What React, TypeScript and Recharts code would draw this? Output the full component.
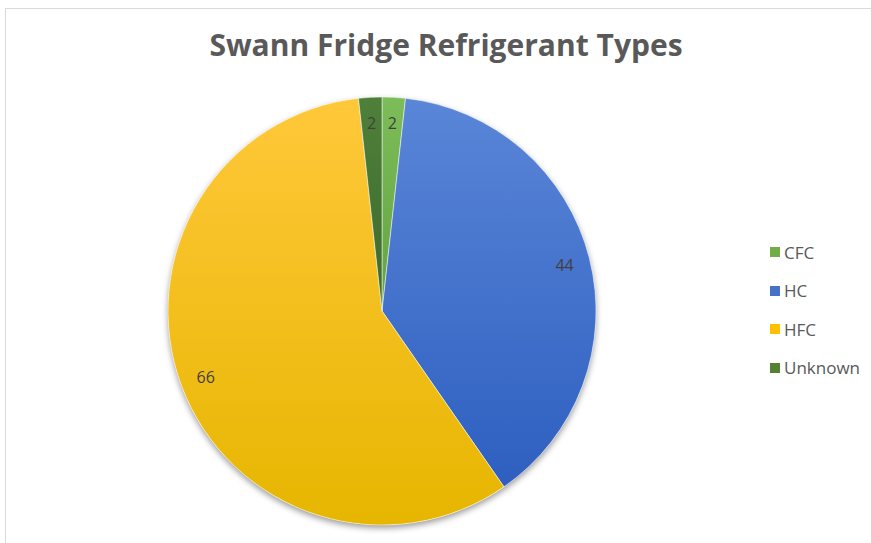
import React from 'react'
import { PieChart, Pie, Cell, Legend } from 'recharts'

const categories = ['CFC', 'HC', 'HFC', 'Unknown']
const counts = [2, 44, 66, 2]
const topColors = ['#7cbd5a', '#5a86d8', '#ffc83a', '#4f803a']
const bottomColors = ['#63a23f', '#2e5fc0', '#e6b600', '#3c6a2c']
const legendColors = ['#70ad47', '#4472c4', '#ffc000', '#548235']

const data = categories.map((name, i) => ({ name, value: counts[i] }))
const RAD = Math.PI / 180
const FONT = '"Open Sans", "Noto Sans", sans-serif'

const renderLabel = (p: any) => {
  const r = p.outerRadius * 0.88
  const x = p.cx + r * Math.cos(-p.midAngle * RAD)
  const y = p.cy + r * Math.sin(-p.midAngle * RAD)
  return (
    <text x={x} y={y} textAnchor="middle" dominantBaseline="central" fill="#404040" fontSize={16} fontFamily={FONT}>
      {p.value}
    </text>
  )
}

const renderLegend = () => (
  <div style={{ fontFamily: FONT, fontSize: 17, color: '#595959' }}>
    {categories.map((c, i) => (
      <div key={c} style={{ display: 'flex', alignItems: 'center', height: 38.5 }}>
        <span style={{ width: 10, height: 10, background: legendColors[i], marginRight: 4, display: 'inline-block' }} />
        {c}
      </div>
    ))}
  </div>
)

export default function App() {
  return (
    <div style={{ position: 'fixed', left: 0, top: 0, width: 871, height: 543, background: '#fff', overflow: 'hidden' }}>
      <div style={{ position: 'absolute', left: 5, top: 8, width: 900, height: 600, border: '1px solid #d9d9d9' }} />
      <div style={{ position: 'absolute', left: 0, top: 24, width: 892, textAlign: 'center', fontFamily: FONT, fontWeight: 700, fontSize: 30, color: '#595959' }}>
        Swann Fridge Refrigerant Types
      </div>
      <div style={{ position: 'absolute', left: 168, top: 97, width: 428, height: 428, borderRadius: '50%', boxShadow: '0 3px 6px rgba(0,0,0,0.4)' }} />
      <PieChart width={871} height={543} style={{ position: 'absolute', left: 0, top: 0 }}>
        <defs>
          {categories.map((c, i) => (
            <linearGradient key={c} id={'g' + i} x1="0" y1="0" x2="0" y2="1">
              <stop offset="0%" stopColor={topColors[i]} />
              <stop offset="100%" stopColor={bottomColors[i]} />
            </linearGradient>
          ))}
        </defs>
        <Pie
          data={data}
          dataKey="value"
          cx={377}
          cy={306}
          outerRadius={214}
          startAngle={90}
          endAngle={-270}
          stroke="#ffffff"
          strokeWidth={0.5}
          label={renderLabel}
          labelLine={false}
          isAnimationActive={false}
        >
          {data.map((_, i) => <Cell key={i} fill={`url(#g${i})`} />)}
        </Pie>
        <Legend layout="vertical" align="right" verticalAlign="top" content={renderLegend} wrapperStyle={{ left: 770, top: 233, width: 100 }} />
      </PieChart>
    </div>
  )
}
